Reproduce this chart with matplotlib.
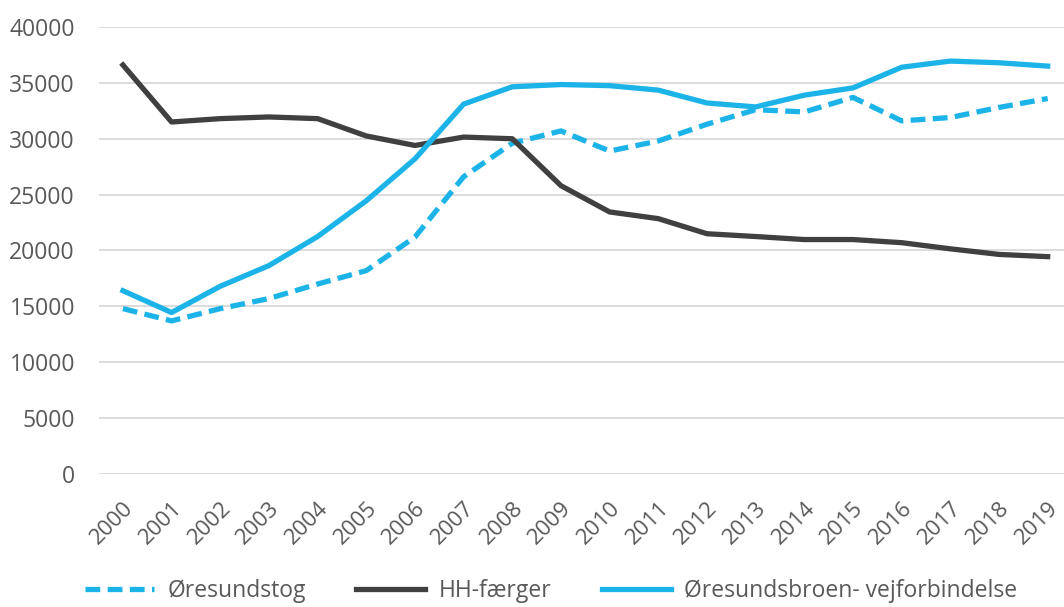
import matplotlib
matplotlib.use("Agg")
import matplotlib.pyplot as plt

years = [str(y) for y in range(2000, 2020)]
oresundstog = [14800, 13700, 14800, 15700, 17000, 18200, 21200, 26600, 29600, 30700,
               28900, 29800, 31300, 32600, 32400, 33700, 31600, 31900, 32800, 33600]
hh_faerger = [36600, 31500, 31800, 31950, 31800, 30250, 29400, 30150, 30000, 25800,
              23450, 22850, 21500, 21250, 20980, 20980, 20700, 20150, 19650, 19450]
broen = [16400, 14450, 16800, 18650, 21250, 24450, 28200, 33100, 34650, 34850,
         34750, 34350, 33200, 32850, 33900, 34550, 36400, 36950, 36800, 36500]
yticks = list(range(0, 40001, 5000))

plt.rcParams['font.family'] = ['Open Sans', 'DejaVu Sans']

BLUE = '#1CB4E8'
DARK = '#404040'
TXT = '#595959'

fig = plt.figure(figsize=(10.64, 6.07), dpi=100)
left = 98.6 / 1064
bottom = 1 - 474 / 607
top = 1 - 27 / 607
ax = fig.add_axes([left, bottom, 1.0 - left, top - bottom])

x = list(range(len(years)))
ax.plot(x, oresundstog, color=BLUE, lw=3.8, ls=(0, (2.8, 1.4)), label='Øresundstog',
        dash_capstyle='butt')
ax.plot(x, hh_faerger, color=DARK, lw=3.8, label='HH-færger', solid_joinstyle='round')
ax.plot(x, broen, color=BLUE, lw=3.8, label='Øresundsbroen- vejforbindelse', solid_joinstyle='round')

ax.set_xlim(-0.5, 19.5 - 8 / 48.7)
ax.set_ylim(0, 40000)
ax.set_yticks(yticks)
ax.set_yticklabels([str(v) for v in yticks])
ax.set_xticks(x)
ax.set_xticklabels(years, rotation=45, ha='right', va='top', rotation_mode='anchor')
ax.grid(axis='y', color='#D9D9D9', lw=1.3)
ax.set_axisbelow(True)
for s in ax.spines.values():
    s.set_visible(False)
ax.tick_params(axis='y', length=0, pad=17, labelsize=16.5, labelcolor=TXT)
ax.tick_params(axis='x', length=0, pad=17, labelsize=16, labelcolor=TXT)

leg = fig.legend(loc='lower center', bbox_to_anchor=(0.518, -0.027), ncol=3, frameon=False,
                 fontsize=16.5, handlelength=3.0, columnspacing=2.2, handletextpad=0.6)
for t in leg.get_texts():
    t.set_color(TXT)

fig.savefig('out.png', dpi=100)
